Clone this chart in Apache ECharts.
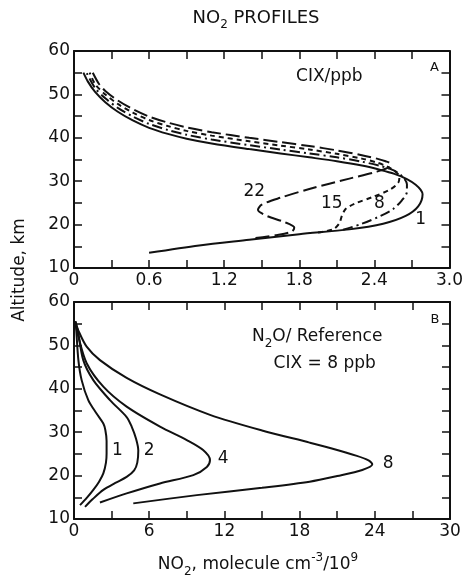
<!DOCTYPE html>
<html>
<head>
<meta charset="utf-8">
<title>NO2 profiles</title>
<script src="https://cdn.jsdelivr.net/npm/echarts@6/dist/echarts.min.js"></script>
<style>
html, body { margin: 0; padding: 0; background: #fff; }
#chart { width: 466px; height: 579px; }
</style>
</head>
<body>
<div id="chart"></div>
<script>
// panel A: NO2 (1e9 molecule cm-3) vs altitude (km) for CIX = 1, 8, 15, 22 ppb
var cix1 = [[0.6,13.5],[1.0,15.2],[1.4,16.5],[1.8,17.8],[2.2,18.9],[2.47,20.2],[2.65,22.0],[2.75,24.2],[2.785,27.0],
    [2.77,28.0],[2.73,29.2],[2.66,30.5],[2.56,31.7],[2.45,32.6],[2.3,33.6],[2.1,34.6],[1.88,35.5],[1.65,36.4],
    [1.4,37.4],[1.1,38.7],[0.9,39.8],[0.75,40.9],[0.6,42.3],[0.47,44.0],[0.35,46.0],[0.25,48.2],[0.17,50.5],
    [0.11,53.0],[0.075,55.0]];
var cix8 = [[2.15,18.8],[2.3,20.2],[2.45,22.0],[2.55,23.6],[2.62,25.6],[2.66,27.6],[2.66,29.3],[2.63,30.9],
    [2.58,32.1],[2.52,32.9],[2.45,33.5],[2.3,34.5],[2.1,35.5],[1.88,36.4],[1.65,37.3],[1.4,38.3],[1.1,39.6],
    [0.9,40.7],[0.75,41.8],[0.6,43.2],[0.47,44.9],[0.35,46.9],[0.25,49.1],[0.17,51.4],[0.1,55.0]];
var cix15 = [[1.95,18.2],[2.07,18.9],[2.12,20.3],[2.14,22.0],[2.17,23.6],[2.24,24.8],[2.39,26.4],[2.52,28.0],
    [2.59,29.6],[2.6,31.0],[2.56,32.4],[2.5,33.4],[2.42,34.3],[2.3,35.2],[2.1,36.3],[1.88,37.3],[1.65,38.2],
    [1.4,39.2],[1.1,40.5],[0.9,41.6],[0.75,42.7],[0.6,44.1],[0.47,45.8],[0.35,47.8],[0.25,50.0],[0.17,52.3],
    [0.125,55.0]];
var cix22 = [[1.45,16.9],[1.62,17.6],[1.74,18.4],[1.76,19.3],[1.68,20.6],[1.54,22.0],[1.47,23.4],[1.5,24.6],
    [1.65,26.2],[1.88,28.2],[2.2,30.6],[2.42,32.2],[2.52,33.3],[2.53,34.0],[2.49,34.6],[2.42,35.2],[2.3,36.0],
    [2.1,37.1],[1.88,38.1],[1.65,39.0],[1.4,40.0],[1.1,41.3],[0.9,42.4],[0.75,43.5],[0.6,44.9],[0.47,46.6],
    [0.35,48.6],[0.25,50.8],[0.2,52.4],[0.15,55.0]];

// panel B: N2O/reference = 1, 2, 4, 8 with CIX = 8 ppb
var n2o1 = [[0.48,13.2],[1.0,14.8],[1.54,16.7],[2.0,18.6],[2.34,20.5],[2.55,23.0],[2.6,25.1],[2.6,28.0],
    [2.5,30.5],[2.34,32.0],[1.8,34.3],[1.14,37.4],[0.61,42.0],[0.35,46.6],[0.16,54.3],[0.1,55.5]];
var n2o2 = [[0.88,12.8],[1.5,14.6],[2.34,16.7],[3.3,18.3],[4.2,19.7],[4.8,21.2],[5.05,23.0],[5.13,25.8],
    [4.95,28.5],[4.6,31.3],[4.2,33.5],[2.87,37.4],[1.54,42.0],[0.74,46.6],[0.3,53.5],[0.1,55.5]];
var n2o4 = [[2.07,13.8],[4.2,15.9],[6.86,18.2],[9.52,20.1],[10.6,22.0],[10.85,23.6],[10.3,25.9],[9.0,28.2],
    [6.86,31.3],[4.2,35.9],[2.34,40.5],[1.01,45.9],[0.35,52.0],[0.1,55.5]];
var n2o8 = [[4.73,13.6],[9.8,15.5],[15.0,17.2],[18.8,18.6],[21.0,19.9],[23.0,21.3],[23.8,22.6],[23.5,23.5],
    [22.5,24.6],[20.5,26.3],[18.8,27.6],[15.0,30.4],[10.85,34.0],[6.86,38.7],[4.2,42.5],[2.07,46.6],
    [1.01,49.7],[0.35,53.4],[0.1,55.5]];

var xLabelsA = ["0", "0.6", "1.2", "1.8", "2.4", "3.0"];
var xLabelsB = ["0", "6", "12", "18", "24", "30"];
var yLabels = ["10", "20", "30", "40", "50", "60"];

// curve numbers and panel notes: [x, y, text]
var curveTextA = [[2.77,21.1,"1"],[2.44,24.9,"8"],[2.06,24.9,"15"],[1.44,27.6,"22"]];
var curveTextB = [[3.46,25.8,"1"],[6.0,25.8,"2"],[11.9,24.0,"4"],[25.06,22.7,"8"]];
var noteA = [[2.04,54.1,"CIX/ppb"],[2.88,56.1,"{m|A}"]];
var noteB = [[19.4,52.0,"N{s|2}O/ Reference"],[20.0,45.9,"CIX = 8 ppb"],[28.8,55.9,"{m|B}"]];

var FONT = "DejaVu Sans";
var INK = "#111";

var chartDom = document.getElementById("chart");
var myChart = echarts.init(chartDom);

function makeX(grid, pos, max, step, labels) {
    return {
        type: "value", gridIndex: grid, position: pos, min: 0, max: max, interval: step,
        axisLine: { show: true, onZero: false, lineStyle: { color: INK, width: 2 } },
        axisTick: { show: true, inside: true, length: 8, lineStyle: { color: INK, width: 1.5 } },
        minorTick: { show: true, splitNumber: 2, length: 8, lineStyle: { color: INK, width: 1.5 } },
        splitLine: { show: false },
        axisLabel: labels ? {
            show: true, margin: 4, color: INK, fontSize: 17, fontFamily: FONT,
            showMinLabel: true, showMaxLabel: true, hideOverlap: false,
            formatter: function (v) { return labels[Math.round(v / step)]; }
        } : { show: false }
    };
}

function makeY(grid, pos, withLabels) {
    return {
        type: "value", gridIndex: grid, position: pos, min: 10, max: 60, interval: 10,
        axisLine: { show: true, onZero: false, lineStyle: { color: INK, width: 2 } },
        axisTick: { show: true, inside: true, length: 8, lineStyle: { color: INK, width: 1.5 } },
        minorTick: { show: true, splitNumber: 2, length: 8, lineStyle: { color: INK, width: 1.5 } },
        splitLine: { show: false },
        axisLabel: withLabels ? {
            show: true, margin: 4, color: INK, fontSize: 17, fontFamily: FONT,
            showMinLabel: true, showMaxLabel: true, hideOverlap: false,
            formatter: function (v) { return yLabels[Math.round((v - 10) / 10)]; }
        } : { show: false }
    };
}

function curve(data, idx, dash) {
    return {
        type: "line", xAxisIndex: idx, yAxisIndex: idx, data: data,
        smooth: 0.3, symbol: "none", showSymbol: false, silent: true, clip: false,
        lineStyle: { color: INK, width: 2, type: dash || "solid" }
    };
}

function texts(data, idx) {
    return {
        type: "scatter", xAxisIndex: idx, yAxisIndex: idx, data: data,
        symbolSize: 0, silent: true,
        itemStyle: { color: INK, opacity: 1 },
        label: {
            show: true, position: "inside", color: INK, opacity: 1, fontSize: 17, fontFamily: FONT,
            textBorderWidth: 0, lineHeight: 26,
            formatter: function (p) { return p.value[2]; },
            rich: {
                s: { fontSize: 12, fontFamily: FONT, color: INK, lineHeight: 12, verticalAlign: "bottom" },
                m: { fontSize: 13, fontFamily: FONT, color: INK }
            }
        }
    };
}

var option = {
    animation: false,
    backgroundColor: "#fff",
    grid: [
        { left: 74, top: 51, width: 376, height: 217 },
        { left: 74, top: 302, width: 376, height: 217 }
    ],
    xAxis: [
        makeX(0, "bottom", 3, 0.6, xLabelsA),
        makeX(0, "top", 3, 0.6, null),
        makeX(1, "bottom", 30, 6, xLabelsB),
        makeX(1, "top", 30, 6, null)
    ],
    yAxis: [
        makeY(0, "left", true),
        makeY(0, "right", false),
        makeY(1, "left", true),
        makeY(1, "right", false)
    ],
    series: [
        curve(cix1, 0),
        curve(cix8, 0, [10, 4, 2, 4]),
        curve(cix15, 0, [5, 4]),
        curve(cix22, 0, [14, 5]),
        curve(n2o1, 2),
        curve(n2o2, 2),
        curve(n2o4, 2),
        curve(n2o8, 2),
        texts(curveTextA, 0),
        texts(noteA, 0),
        texts(curveTextB, 2),
        texts(noteB, 2)
    ],
    graphic: [
        {
            type: "text", x: 256, y: 18, silent: true,
            style: {
                text: "{a|NO}{b|2}{a| PROFILES}", align: "center", verticalAlign: "middle",
                rich: {
                    a: { fontSize: 18, fontFamily: FONT, fill: INK, lineHeight: 26 },
                    b: { fontSize: 12, fontFamily: FONT, fill: INK, lineHeight: 12, verticalAlign: "bottom" }
                }
            }
        },
        {
            type: "text", x: 20, y: 270, rotation: Math.PI / 2, silent: true,
            style: {
                text: "Altitude, km", align: "center", verticalAlign: "middle",
                fill: INK, fontSize: 17, fontFamily: FONT
            }
        },
        {
            type: "text", x: 258, y: 565, silent: true,
            style: {
                text: "{a|NO}{b|2}{a|, molecule cm}{c|-3}{a|/10}{c|9}", align: "center", verticalAlign: "middle",
                rich: {
                    a: { fontSize: 17, fontFamily: FONT, fill: INK, lineHeight: 26 },
                    b: { fontSize: 12, fontFamily: FONT, fill: INK, lineHeight: 12, verticalAlign: "bottom" },
                    c: { fontSize: 12, fontFamily: FONT, fill: INK, lineHeight: 12, verticalAlign: "top" }
                }
            }
        }
    ]
};

option && myChart.setOption(option);
</script>
</body>
</html>
